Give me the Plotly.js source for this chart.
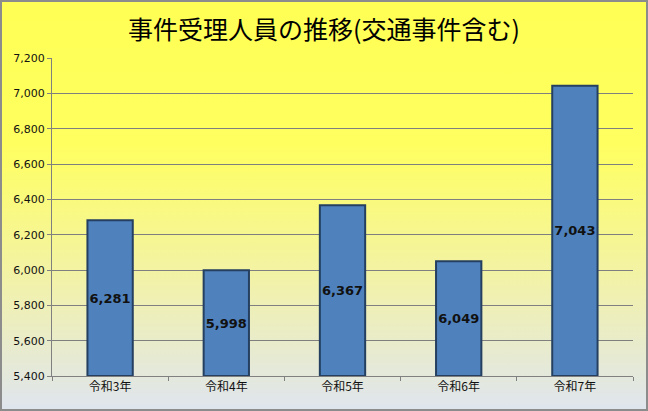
<!DOCTYPE html>
<html>
<head>
<meta charset="utf-8">
<script src="https://cdn.plot.ly/plotly-3.0.1.min.js"></script>
<style>
  body { margin: 0; }
  #frame {
    width: 648px; height: 411px; box-sizing: border-box;
    border: 2px solid #8c8c8c;
    background: linear-gradient(to bottom, #ffff55 0%, #ffff60 35%, #f2f2a8 68%, #dfe5ee 100%);
  }
</style>
</head>
<body>
<div id="frame"><div id="chart" style="width:644px;height:407px;"></div></div>
<script>
var years = ['令和3年', '令和4年', '令和5年', '令和6年', '令和7年'];
var persons = [6281, 5998, 6367, 6049, 7043];
var axisMin = 5400;
var axisMax = 7200;

// bars start at the axis floor so the labels sit in the middle of the visible part
var data = [{
  type: 'bar',
  x: years,
  y: persons.map(function (v) { return v - axisMin; }),
  base: axisMin,
  width: 0.39,
  marker: { color: '#4f81bd', line: { color: '#243f60', width: 2 } },
  text: persons.map(function (v) { return '<b>' + v.toLocaleString('en-US') + '</b>'; }),
  textposition: 'inside',
  insidetextanchor: 'middle',
  textangle: 0,
  constraintext: 'none',
  textfont: { family: 'DejaVu Sans, sans-serif', size: 13, color: '#111' },
  hoverinfo: 'x+text'
}];

var layout = {
  title: {
    text: '事件受理人員の推移(交通事件含む)',
    font: { family: 'Noto Sans CJK JP', size: 25, color: '#000' },
    x: 0.5, xref: 'container', xanchor: 'center',
    y: 0.93, yref: 'container', yanchor: 'middle'
  },
  margin: { l: 50, r: 13, t: 56, b: 33 },
  paper_bgcolor: 'rgba(0,0,0,0)',
  plot_bgcolor: 'rgba(0,0,0,0)',
  showlegend: false,
  xaxis: {
    showline: true, linecolor: '#808080', linewidth: 1,
    ticks: 'outside', tickson: 'boundaries', ticklen: 4, tickcolor: '#808080',
    tickfont: { family: 'Noto Sans CJK JP', size: 12, color: '#111' }
  },
  yaxis: {
    range: [axisMin, axisMax], dtick: 200, tickformat: ',d',
    showline: true, linecolor: '#808080', linewidth: 1,
    ticks: 'outside', ticklen: 4, tickcolor: '#808080',
    gridcolor: '#7f7f7f', gridwidth: 1,
    tickfont: { family: 'DejaVu Sans, sans-serif', size: 11, color: '#111' }
  },
  bargap: 0.6
};

Plotly.newPlot('chart', data, layout, { displayModeBar: false, staticPlot: true });
</script>
</body>
</html>
